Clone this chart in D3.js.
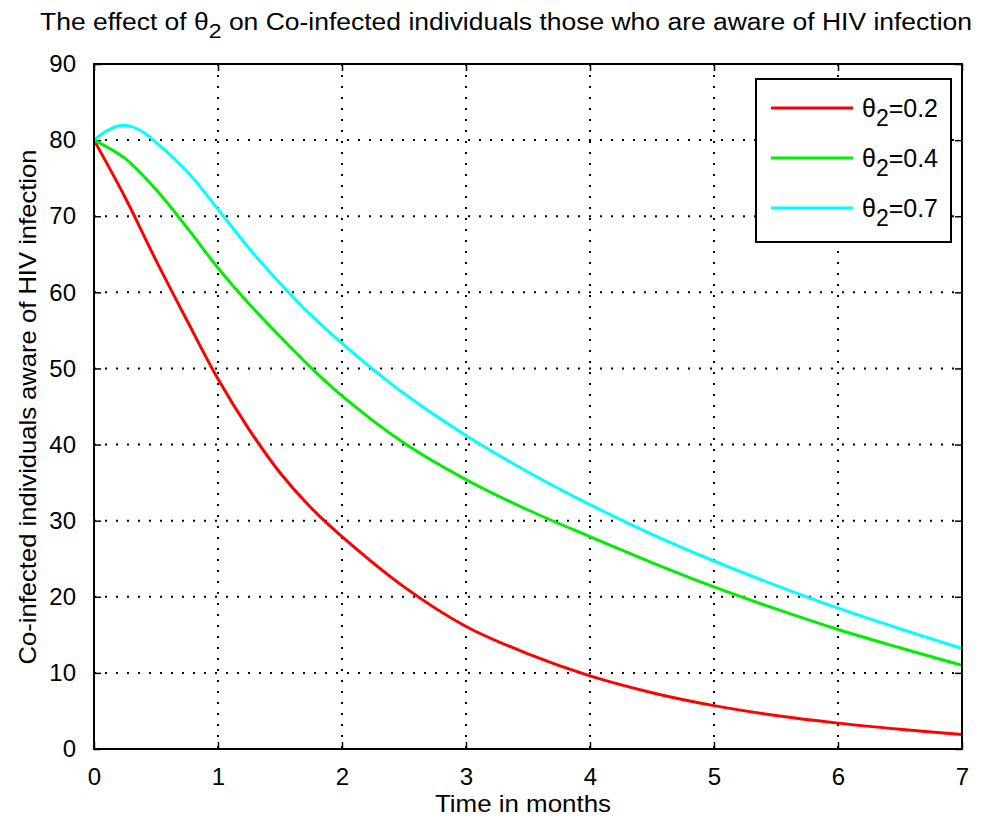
<!DOCTYPE html>
<html>
<head>
<meta charset="utf-8">
<script src="https://cdn.jsdelivr.net/npm/d3@7"></script>
<style>
  body { margin: 0; background: #fff; }
  svg text { font-family: "Liberation Sans", Arial, sans-serif; fill: #000; }
</style>
</head>
<body>
<svg id="chart" width="988" height="818"></svg>
<script>
// ---- data ----
const timeRed   = [0, 0.25, 0.5, 0.75, 1, 1.25, 1.5, 1.75, 2, 2.5, 3, 3.5, 4, 4.5, 5, 5.5, 6, 6.5, 7];
const valuesRed = [80, 72.5, 64.2, 56.3, 48.6, 42.0, 36.3, 31.7, 27.9, 21.3, 16.1, 12.5, 9.6, 7.4, 5.7, 4.4, 3.4, 2.6, 1.9];

const timeGreen   = [0, 0.25, 0.5, 0.75, 1, 1.25, 1.5, 1.75, 2, 2.5, 3, 3.5, 4, 4.5, 5, 5.5, 6, 6.5, 7];
const valuesGreen = [80, 77.6, 73.5, 68.5, 63.2, 58.5, 54.2, 50.1, 46.4, 40.2, 35.4, 31.4, 27.9, 24.5, 21.3, 18.4, 15.7, 13.3, 11.0];

const timeCyan   = [0, 0.1, 0.2, 0.3, 0.4, 0.5, 0.75, 1, 1.25, 1.5, 1.75, 2, 2.5, 3, 3.5, 4, 4.5, 5, 5.5, 6, 6.5, 7];
const valuesCyan = [80, 81.2, 81.9, 81.8, 81.0, 79.7, 75.9, 70.9, 65.8, 61.2, 57.0, 53.3, 46.7, 41.2, 36.4, 32.1, 28.2, 24.7, 21.5, 18.5, 15.8, 13.2];

const seriesNames  = ["0.2", "0.4", "0.7"];
const seriesColors = ["#ff0000", "#00ee00", "#00ffff"];
const xTicks = [0, 1, 2, 3, 4, 5, 6, 7];
const yTicks = [0, 10, 20, 30, 40, 50, 60, 70, 80, 90];

const series = [
  { name: seriesNames[0], color: seriesColors[0], pts: timeRed.map((t, i) => [t, valuesRed[i]]) },
  { name: seriesNames[1], color: seriesColors[1], pts: timeGreen.map((t, i) => [t, valuesGreen[i]]) },
  { name: seriesNames[2], color: seriesColors[2], pts: timeCyan.map((t, i) => [t, valuesCyan[i]]) }
];

// ---- layout ----
const svg = d3.select("#chart");
const plotL = 94, plotR = 962, plotT = 64, plotB = 749;

const x = d3.scaleLinear().domain([0, 7]).range([plotL, plotR]);
const y = d3.scaleLinear().domain([0, 90]).range([plotB, plotT]);

// grid (dotted)
svg.append("g")
  .selectAll("line")
  .data(xTicks.slice(1, -1))
  .join("line")
  .attr("x1", d => x(d)).attr("x2", d => x(d))
  .attr("y1", plotT).attr("y2", plotB)
  .attr("stroke", "#000").attr("stroke-width", 2)
  .attr("stroke-dasharray", "2,9");

svg.append("g")
  .selectAll("line")
  .data(yTicks.slice(1, -1))
  .join("line")
  .attr("x1", plotL).attr("x2", plotR)
  .attr("y1", d => y(d)).attr("y2", d => y(d))
  .attr("stroke", "#000").attr("stroke-width", 2)
  .attr("stroke-dasharray", "2,9");

// axes with inward ticks, box on all sides
const tickLen = 7;
svg.append("g")
  .attr("transform", `translate(0,${plotB})`)
  .call(d3.axisBottom(x).tickValues(xTicks).tickFormat(d3.format("d"))
    .tickSizeInner(-tickLen).tickSizeOuter(0).tickPadding(19))
  .call(g => g.select(".domain").remove())
  .call(g => g.selectAll("text").attr("font-size", 24).attr("dy", "0.71em"));

svg.append("g")
  .attr("transform", `translate(0,${plotT})`)
  .call(d3.axisTop(x).tickValues(xTicks).tickSizeInner(-tickLen).tickSizeOuter(0).tickFormat(""))
  .call(g => g.select(".domain").remove());

svg.append("g")
  .attr("transform", `translate(${plotL},0)`)
  .call(d3.axisLeft(y).tickValues(yTicks).tickSizeInner(-tickLen).tickSizeOuter(0).tickPadding(18))
  .call(g => g.select(".domain").remove())
  .call(g => g.selectAll("text").attr("font-size", 24));

svg.append("g")
  .attr("transform", `translate(${plotR},0)`)
  .call(d3.axisRight(y).tickValues(yTicks).tickSizeInner(-tickLen).tickSizeOuter(0).tickFormat(""))
  .call(g => g.select(".domain").remove());

svg.selectAll(".tick line").attr("stroke", "#000").attr("stroke-width", 1.5);

// curves
const line = d3.line()
  .x(d => x(d[0]))
  .y(d => y(d[1]))
  .curve(d3.curveCatmullRom.alpha(0.5));

svg.append("g")
  .selectAll("path")
  .data(series)
  .join("path")
  .attr("d", d => line(d.pts))
  .attr("fill", "none")
  .attr("stroke", d => d.color)
  .attr("stroke-width", 3);

// frame
svg.append("rect")
  .attr("x", plotL).attr("y", plotT)
  .attr("width", plotR - plotL).attr("height", plotB - plotT)
  .attr("fill", "none").attr("stroke", "#000").attr("stroke-width", 2);

// legend
const lg = svg.append("g");
lg.append("rect")
  .attr("x", 756).attr("y", 79).attr("width", 195).attr("height", 163)
  .attr("fill", "#fff").attr("stroke", "#000").attr("stroke-width", 2);

series.forEach((s, i) => {
  const ly = 108 + i * 50;
  lg.append("line")
    .attr("x1", 771).attr("x2", 853)
    .attr("y1", ly).attr("y2", ly)
    .attr("stroke", s.color).attr("stroke-width", 3);
  const t = lg.append("text")
    .attr("x", 862).attr("y", ly + 9)
    .attr("font-size", 25)
    .attr("textLength", 76).attr("lengthAdjust", "spacingAndGlyphs");
  t.append("tspan").text("\u03b8");
  t.append("tspan").attr("font-size", 23).attr("dy", 9).text("2");
  t.append("tspan").attr("dy", -9).text("=" + s.name);
});

// title
const title = svg.append("text")
  .attr("x", 40).attr("y", 30)
  .attr("font-size", 23)
  .attr("textLength", 932).attr("lengthAdjust", "spacingAndGlyphs");
title.append("tspan").text("The effect of \u03b8");
title.append("tspan").attr("dy", 8).attr("font-size", 20).text("2");
title.append("tspan").attr("dy", -8).text(" on Co-infected individuals those who are aware of HIV infection");

// axis labels
svg.append("text")
  .attr("x", 523).attr("y", 812)
  .attr("text-anchor", "middle")
  .attr("font-size", 24)
  .attr("textLength", 176).attr("lengthAdjust", "spacingAndGlyphs")
  .text("Time in months");

svg.append("text")
  .attr("transform", "translate(36,407) rotate(-90)")
  .attr("text-anchor", "middle")
  .attr("font-size", 24)
  .attr("textLength", 515).attr("lengthAdjust", "spacingAndGlyphs")
  .text("Co-infected individuals aware of HIV infection");
</script>
</body>
</html>
